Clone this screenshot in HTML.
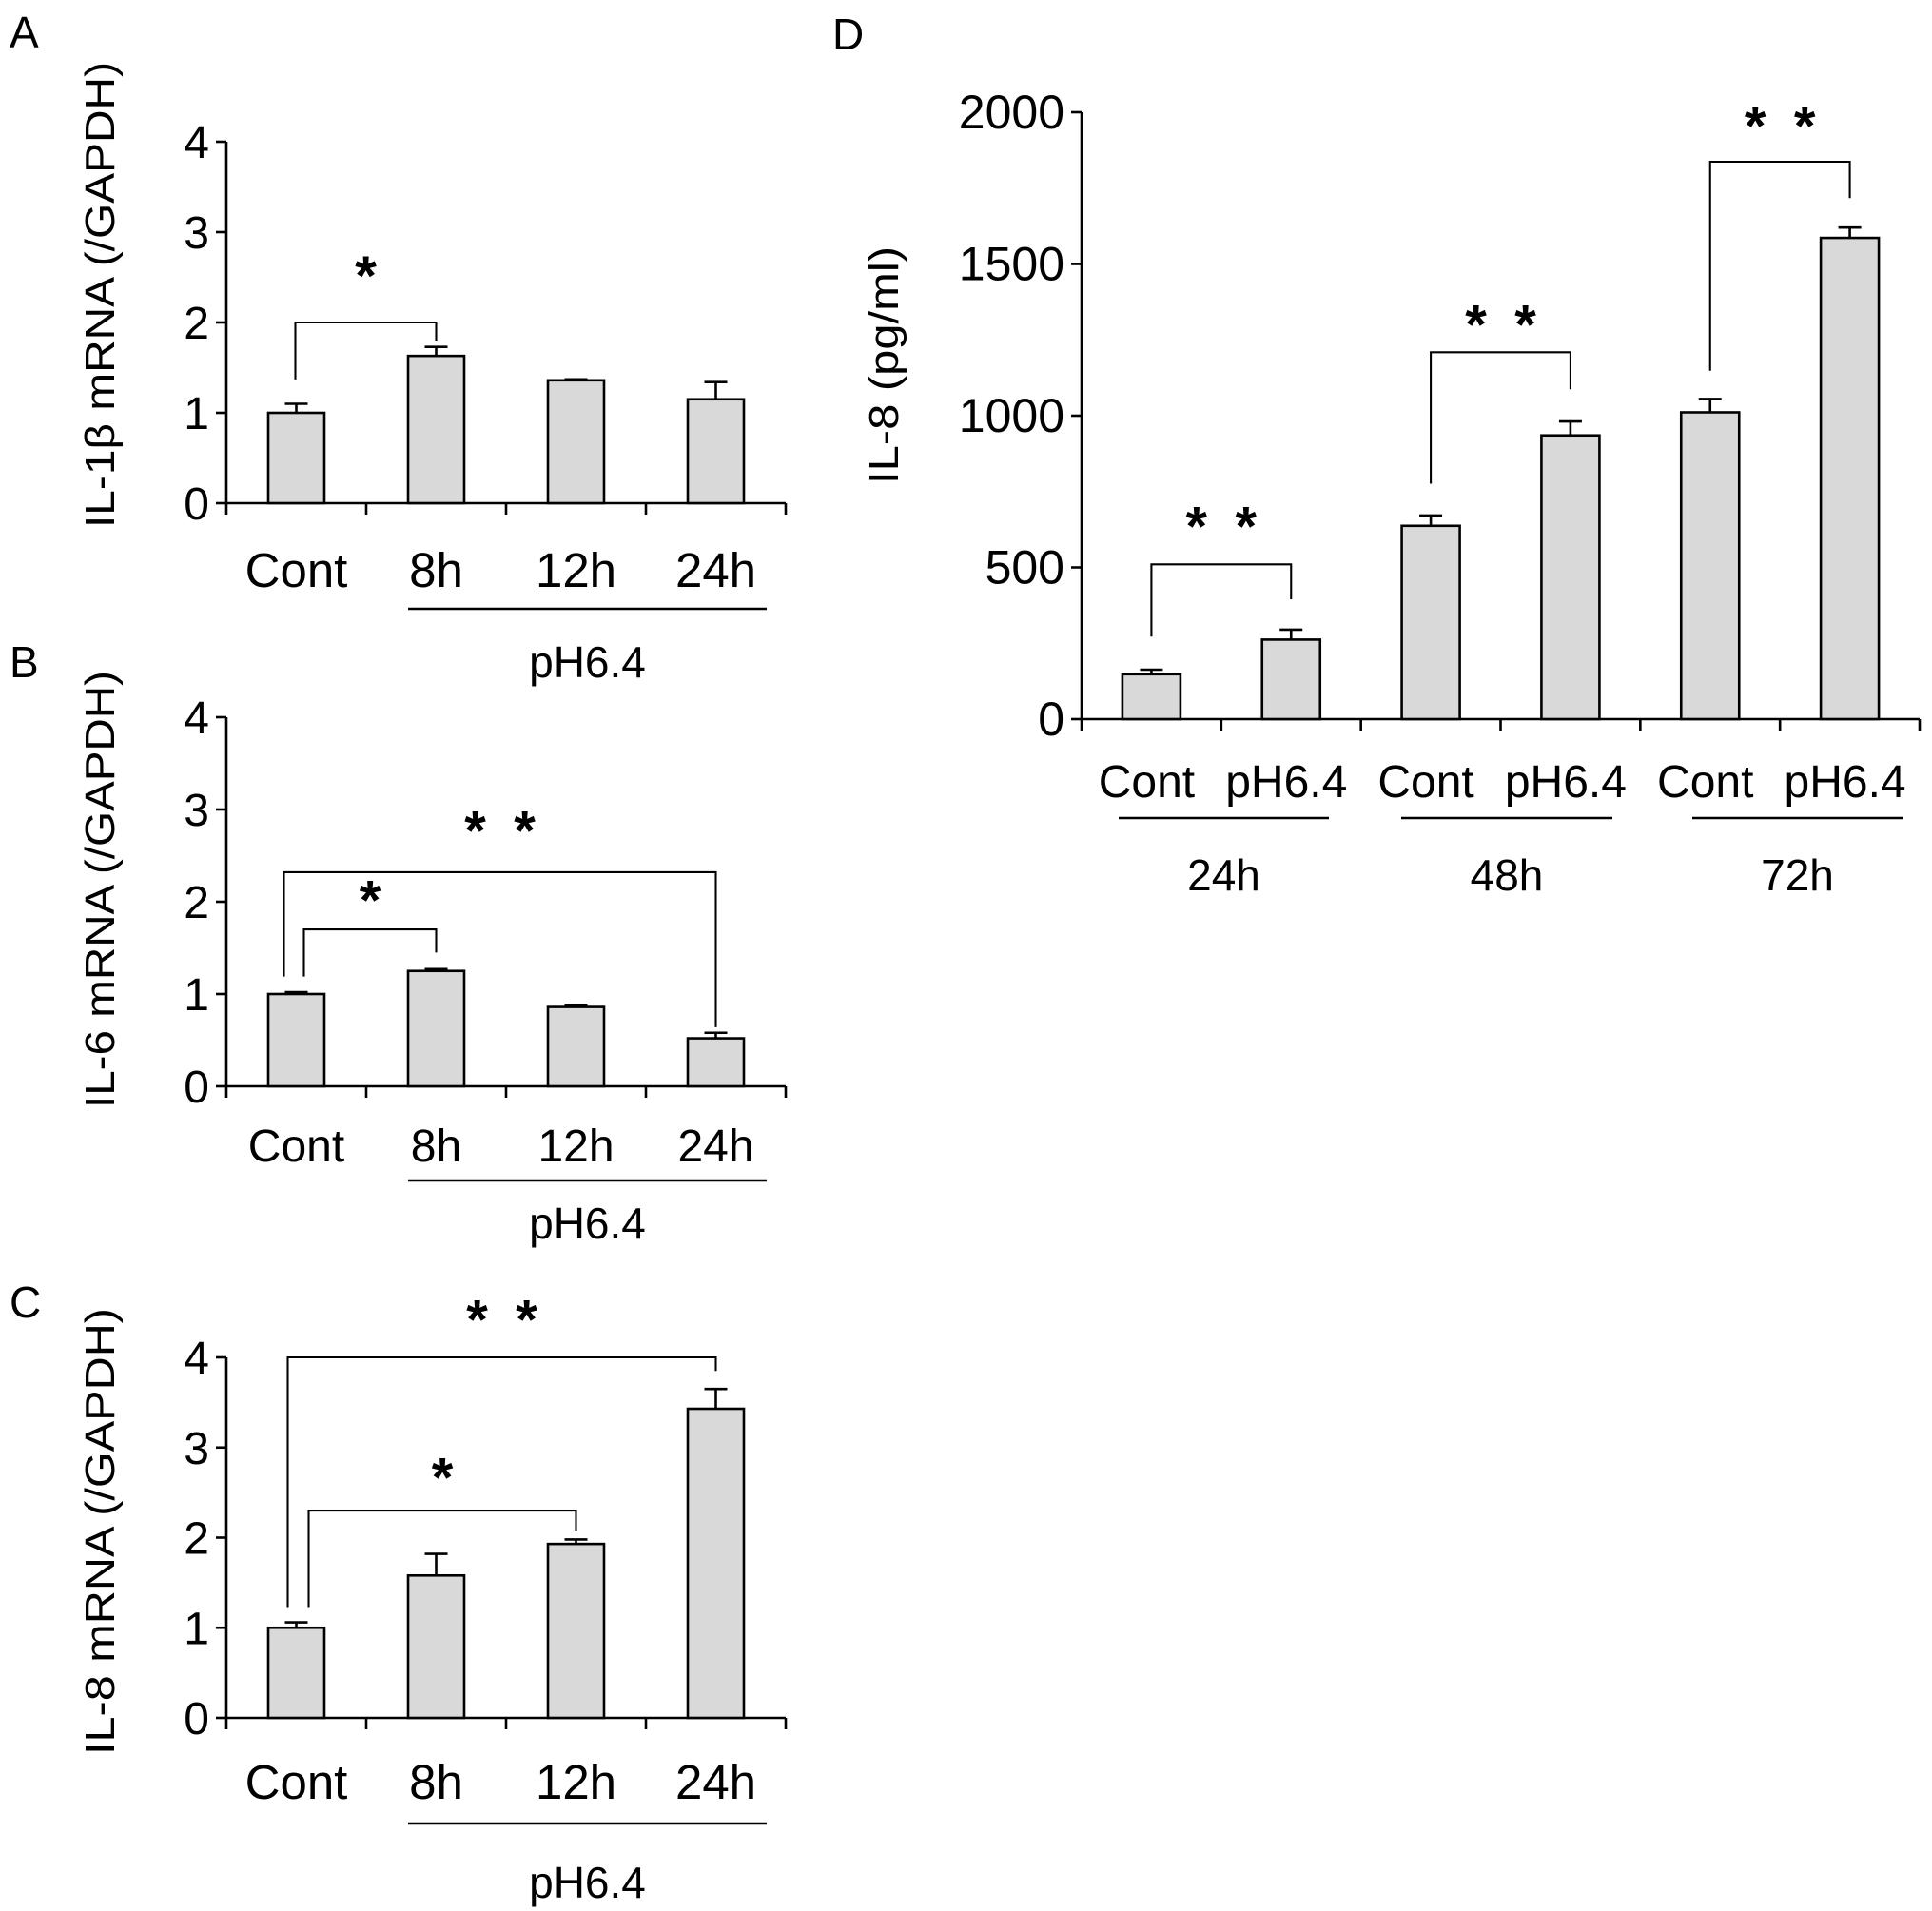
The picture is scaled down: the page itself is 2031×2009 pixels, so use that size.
<!DOCTYPE html>
<html><head><meta charset="utf-8"><style>
html,body{margin:0;padding:0;background:#fff;}
svg{display:block;font-family:"Liberation Sans",Arial,sans-serif;}
</style></head><body>
<svg id="fig" width="2031" height="2009" viewBox="0 0 2031 2009"></svg>
<script>
// ---- data ----
const catsABC = ["Cont","8h","12h","24h"];
const ticksABC = [0,1,2,3,4];
const il1bMeans = [1.0,1.63,1.36,1.15];
const il1bErr = [0.1,0.1,0.01,0.19];
const il6Means = [1.0,1.25,0.86,0.52];
const il6Err = [0.02,0.02,0.02,0.06];
const il8Means = [1.0,1.58,1.93,3.43];
const il8Err = [0.06,0.24,0.05,0.22];
const catsD = ["Cont","pH6.4","Cont","pH6.4","Cont","pH6.4"];
const groupsD = ["24h","48h","72h"];
const ticksD = [0,500,1000,1500,2000];
const il8ProtMeans = [148,262,637,935,1011,1586];
const il8ProtErr = [15,33,34,46,44,34];

const NS="http://www.w3.org/2000/svg";
const svg=document.getElementById('fig');
function mk(tag,attrs,parent,name,txt){
  const e=document.createElementNS(NS,tag);
  for(const k in attrs)e.setAttribute(k,attrs[k]);
  
  
  if(txt!==undefined)e.textContent=txt;
  (parent||svg).appendChild(e);return e;
}
const SW=2.6;
function line(x1,y1,x2,y2,g,name){return mk('line',{x1,y1,x2,y2,stroke:'#000','stroke-width':SW},g,name);}
function txt(x,y,s,fs,anchor,g,name,extra){
  const a=Object.assign({x,y,'font-size':fs,'text-anchor':anchor||'middle',fill:'#000'},extra||{});
  return mk('text',a,g,name,s);
}

function panel(o){
  const g=mk('g',{},svg,o.id);
  const yS=v=>o.y0+(o.yTop-o.y0)*(v-o.tmin)/(o.tmax-o.tmin);
  const n=o.cats.length, cw=(o.xR-o.x0)/n;
  const xC=i=>o.x0+cw*(i+0.5);
  txt(o.letX,o.letY,o.letter,46,'start',g,'panel-label-'+o.letter.toLowerCase());
  line(o.x0,o.yTop,o.x0,o.y0,g,'y-axis');
  o.ticks.forEach(t=>{
    line(o.x0-11,yS(t),o.x0,yS(t),g,'y-tick');
    txt(o.x0-18,yS(t)+17,String(t),o.tfs,'end',g,'y-tick-label');
  });
  line(o.x0,o.y0,o.xR,o.y0,g,'x-axis');
  for(let i=0;i<=n;i++){line(o.x0+cw*i,o.y0,o.x0+cw*i,o.y0+12,g,'x-tick');}
  const t=txt(o.ytX,o.ytY,o.ytitle,o.ytfs,'middle',g,'y-axis-title',{transform:`rotate(-90 ${o.ytX} ${o.ytY})`});
  if(o.ytLen){t.setAttribute('textLength',o.ytLen);t.setAttribute('lengthAdjust','spacingAndGlyphs');}
  o.means.forEach((v,i)=>{
    const cx=xC(i), bw=o.bw;
    const eTop=yS(v+o.err[i]);
    line(cx,yS(v),cx,eTop,g,'error-bar');
    line(cx-12,eTop,cx+12,eTop,g,'error-cap');
    mk('rect',{x:cx-bw/2,y:yS(v),width:bw,height:o.y0-yS(v),fill:'#d9d9d9',stroke:'#000','stroke-width':SW},g,'bar-'+i);
  });
  o.cats.forEach((c,i)=>txt(xC(i)+(o.cdx||0),o.catY,c,o.cfs,'middle',g,'x-category-label'));
  o.groups.forEach(gr=>{
    line(gr.x1,gr.ly,gr.x2,gr.ly,g,'group-underline');
    txt((gr.x1+gr.x2)/2,gr.ty,gr.label,gr.fs,'middle',g,'group-label');
  });
  o.brackets.forEach(b=>{
    const xa=xC(b.a)+(b.da||0), xb=xC(b.b)+(b.db||0);
    const yt=yS(b.top);
    mk('polyline',{points:`${xa},${yS(b.la)} ${xa},${yt} ${xb},${yt} ${xb},${yS(b.lb)}`,fill:'none',stroke:'#000','stroke-width':SW*0.8},g,'significance-bracket');
    const cx=(xa+xb)/2, sy=yS(b.star)+28;
    const offs=b.n===2?[-26,26]:[0];
    offs.forEach(dx=>txt(cx+dx,sy,'*',58,'middle',g,'significance-marker',{'font-weight':'bold'}));
  });
}

panel({id:'panel-a',letter:'A',letX:10,letY:50,x0:238,xR:826,y0:529,yTop:149,tmin:0,tmax:4,ticks:ticksABC,tfs:48,
  ytitle:'IL-1β mRNA (/GAPDH)',ytX:120,ytY:310,ytfs:44,ytLen:490,
  means:il1bMeans,err:il1bErr,bw:59,cats:catsABC,catY:617,cfs:51,
  groups:[{x1:429,x2:806,ly:640,ty:712,label:'pH6.4',fs:46}],
  brackets:[{a:0,b:1,da:-1,top:2.0,la:1.37,lb:1.8,star:2.6,n:1}]});

panel({id:'panel-b',letter:'B',letX:10,letY:712,x0:238,xR:826,y0:1142,yTop:754,tmin:0,tmax:4,ticks:ticksABC,tfs:48,
  ytitle:'IL-6 mRNA (/GAPDH)',ytX:120,ytY:935,ytfs:44,ytLen:460,
  means:il6Means,err:il6Err,bw:59,cats:catsABC,catY:1221,cfs:48,
  groups:[{x1:429,x2:806,ly:1241,ty:1302,label:'pH6.4',fs:46}],
  brackets:[{a:0,b:1,da:8,top:1.7,la:1.19,lb:1.45,star:2.1,n:1},
            {a:0,b:3,da:-13,top:2.32,la:1.19,lb:0.64,star:2.85,n:2}]});

panel({id:'panel-c',letter:'C',letX:10,letY:1385,x0:238,xR:826,y0:1806,yTop:1427,tmin:0,tmax:4,ticks:ticksABC,tfs:48,
  ytitle:'IL-8 mRNA (/GAPDH)',ytX:120,ytY:1610,ytfs:44,ytLen:470,
  means:il8Means,err:il8Err,bw:59,cats:catsABC,catY:1891,cfs:51,
  groups:[{x1:429,x2:806,ly:1917,ty:1995,label:'pH6.4',fs:46}],
  brackets:[{a:0,b:2,da:13,top:2.3,la:1.23,lb:2.07,star:2.75,n:1},
            {a:0,b:3,da:-9,top:4.0,la:1.23,lb:3.85,star:4.5,n:2}]});

panel({id:'panel-d',letter:'D',letX:875,letY:52,x0:1137,xR:2018,y0:756,yTop:118,tmin:0,tmax:2000,ticks:ticksD,tfs:50,
  ytitle:'IL-8 (pg/ml)',ytX:944,ytY:384,ytfs:44,ytLen:250,
  means:il8ProtMeans,err:il8ProtErr,bw:61,cats:catsD,catY:838,cfs:48,cdx:-5,
  groups:[{x1:1176,x2:1397,ly:860,ty:936,label:groupsD[0],fs:46},
          {x1:1473,x2:1695,ly:860,ty:936,label:groupsD[1],fs:46},
          {x1:1779,x2:2000,ly:860,ty:936,label:groupsD[2],fs:46}],
  brackets:[{a:0,b:1,top:510,la:272,lb:395,star:660,n:2},
            {a:2,b:3,top:1209,la:776,lb:1087,star:1325,n:2},
            {a:4,b:5,top:1837,la:1148,lb:1717,star:1980,n:2}]});
</script>
</body></html>
